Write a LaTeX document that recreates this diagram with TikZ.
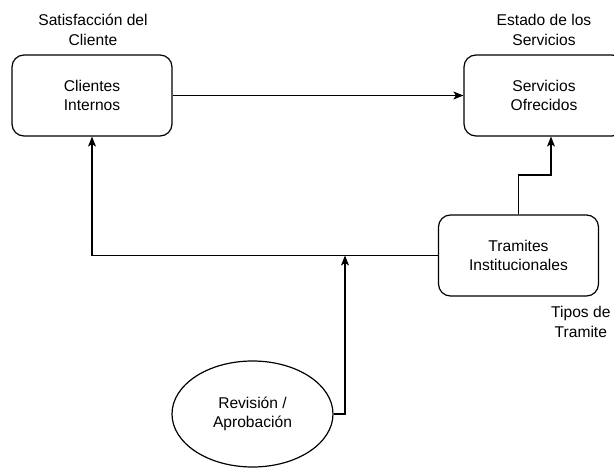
\documentclass[tikz,border=0pt]{standalone}
\usepackage{fontspec}
\setmainfont{Liberation Sans}
\usetikzlibrary{arrows.meta,shapes.geometric}

\tikzset{
  caja/.style={draw, rounded corners=12pt, line width=1.2pt, minimum width=160pt, minimum height=81pt, align=center},
  elipse/.style={draw, ellipse, line width=1.2pt, minimum width=161pt, minimum height=106pt, align=center},
  etiqueta/.style={align=center},
  flecha/.style={line width=1.2pt, -{Stealth[length=10pt,width=8pt,inset=2.5pt]}}
}

\begin{document}
\begin{tikzpicture}[x=1pt, y=-1pt, font=\fontsize{15.6}{19.5}\selectfont]
  \useasboundingbox (0,0) rectangle (614,468);
  % cajas
  \node[caja] (cli) at (92,95.5) {Clientes\\Internos};
  \node[caja] (serv) at (544,95.5) {Servicios\\Ofrecidos};
  \node[caja] (tram) at (518.5,255.5) {Tramites\\Institucionales};
  \node[elipse] (rev) at (252.5,414) {Revisión /\\Aprobación};
  % etiquetas
  \node[etiqueta] (lcli) at (93,30) {Satisfacción del\\Cliente};
  \node[etiqueta] (lserv) at (544,30) {Estado de los\\Servicios};
  \node[etiqueta, anchor=east] (ltram) at (614,322) {Tipos de\\Tramite};
  % conexiones
  \coordinate (codo) at (551,175);
  \coordinate (union) at (345,255.5);
  \draw[flecha] (cli) -- (serv);
  \draw[flecha] (tram.north) |- (codo) -- (codo |- serv.south);
  \draw[flecha] (tram.west) -| (cli.south);
  \draw[flecha] (rev.east) -| (union);
\end{tikzpicture}
\end{document}
